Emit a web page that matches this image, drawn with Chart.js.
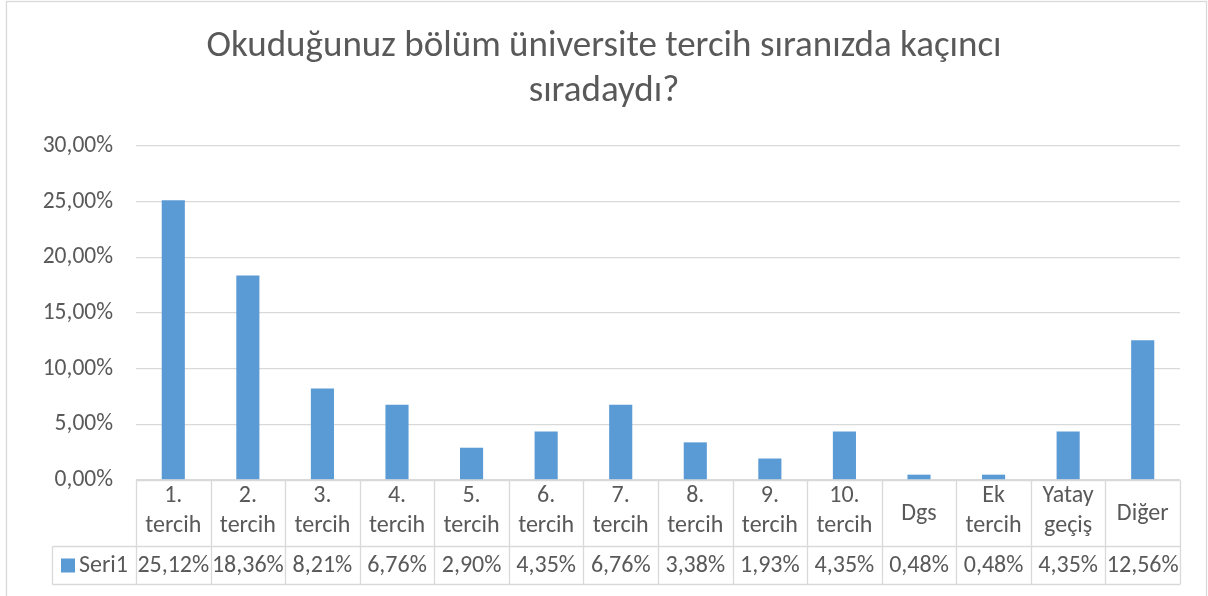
<!DOCTYPE html>
<html>
<head>
<meta charset="utf-8">
<script src="https://cdn.jsdelivr.net/npm/chart.js@4/dist/chart.umd.min.js"></script>
<style>
html,body{margin:0;padding:0;background:#fff;}
canvas{display:block;}
</style>
</head>
<body>
<canvas id="c" width="1208" height="596"></canvas>
<script>
const titleLines = ['Okuduğunuz bölüm üniversite tercih sıranızda kaçıncı', 'sıradaydı?'];
const categories = ['1. tercih','2. tercih','3. tercih','4. tercih','5. tercih','6. tercih','7. tercih','8. tercih','9. tercih','10. tercih','Dgs','Ek tercih','Yatay geçiş','Diğer'];
const seriesName = 'Seri1';
const values = [25.12, 18.36, 8.21, 6.76, 2.90, 4.35, 6.76, 3.38, 1.93, 4.35, 0.48, 0.48, 4.35, 12.56];
const yTicks = [0, 5, 10, 15, 20, 25, 30];

const FONT = 'Carlito, Lato, sans-serif';
const TXT = '#595959';
const GRID = '#D9D9D9';
const BAR = '#5B9BD5';
const fmt = v => v.toFixed(2).replace('.', ',') + '%';

const tablePlugin = {
  id: 'dataTable',
  beforeDraw(chart) {
    const ctx = chart.ctx;
    ctx.save();
    ctx.strokeStyle = GRID;
    ctx.lineWidth = 1.3;
    ctx.strokeRect(6.5, 1.5, 1200, 620);
    ctx.restore();
  },
  afterDraw(chart) {
    const ctx = chart.ctx;
    const xs = chart.scales.x;
    const area = chart.chartArea;
    const n = categories.length;
    const step = xs.getPixelForValue(1) - xs.getPixelForValue(0);
    const top = Math.round(area.bottom) + 0.5;
    const mid = top + 66;
    const bot = top + 104;
    const legL = 52.5;
    ctx.save();
    ctx.strokeStyle = GRID;
    ctx.lineWidth = 1.3;
    ctx.beginPath();
    ctx.moveTo(xs.left, top); ctx.lineTo(xs.right, top);
    ctx.moveTo(legL, mid); ctx.lineTo(xs.right, mid);
    ctx.moveTo(legL, bot); ctx.lineTo(xs.right, bot);
    ctx.moveTo(legL, mid); ctx.lineTo(legL, bot);
    for (let i = 0; i <= n; i++) {
      const x = Math.round(xs.getPixelForValue(i) - step / 2) + 0.5;
      ctx.moveTo(x, top); ctx.lineTo(x, bot);
    }
    ctx.stroke();

    ctx.fillStyle = TXT;
    ctx.font = '24px ' + FONT;
    ctx.textAlign = 'center';
    ctx.textBaseline = 'middle';
    categories.forEach((c, i) => {
      const x = xs.getPixelForValue(i);
      const parts = c.split(' ');
      if (parts.length === 1) {
        ctx.fillText(parts[0], x, (top + mid) / 2);
      } else {
        ctx.fillText(parts[0], x, top + 15);
        ctx.fillText(parts.slice(1).join(' '), x, top + 45);
      }
      ctx.fillText(fmt(values[i]), x, (mid + bot) / 2);
    });
    ctx.fillStyle = BAR;
    ctx.fillRect(61, (mid + bot) / 2 - 7, 14, 14);
    ctx.fillStyle = TXT;
    ctx.textAlign = 'left';
    ctx.fillText(seriesName, 79, (mid + bot) / 2);
    ctx.restore();
  }
};

new Chart(document.getElementById('c'), {
  type: 'bar',
  data: {
    labels: categories,
    datasets: [{
      label: seriesName,
      data: values,
      backgroundColor: BAR,
      borderWidth: 0,
      barPercentage: 0.31,
      categoryPercentage: 1
    }]
  },
  options: {
    responsive: false,
    animation: false,
    layout: { padding: { left: 0, right: 0, top: 0, bottom: 116 } },
    plugins: {
      legend: { display: false },
      tooltip: { enabled: false },
      title: {
        display: true,
        text: titleLines,
        color: TXT,
        font: { family: FONT, size: 37, weight: 'normal', lineHeight: 1.216 },
        padding: { top: 24, bottom: 32 }
      }
    },
    scales: {
      x: {
        display: false,
        offset: true
      },
      y: {
        min: 0,
        max: 30,
        afterFit: s => { s.width = 136; },
        afterBuildTicks: s => { s.ticks = yTicks.map(v => ({ value: v })); },
        border: { display: false },
        grid: { color: GRID, lineWidth: 1.3, drawTicks: false },
        ticks: {
          color: TXT,
          padding: 23,
          font: { family: FONT, size: 23.5 },
          callback: v => fmt(v)
        }
      },
      yr: {
        position: 'right',
        min: 0,
        max: 30,
        afterFit: s => { s.width = 28; },
        border: { display: false },
        grid: { display: false, drawTicks: false },
        ticks: { display: false }
      }
    }
  },
  plugins: [tablePlugin]
});
</script>
</body>
</html>
